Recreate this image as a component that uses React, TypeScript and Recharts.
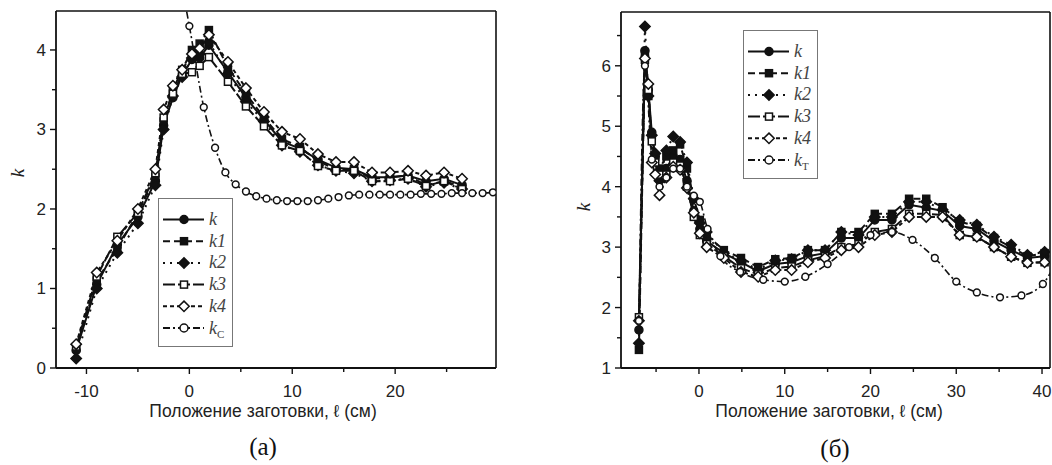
import React from "react";
import { LineChart, Line, XAxis, YAxis, ReferenceLine, Legend, Label } from "recharts";

// ---- (a) ----
const xA = [-11, -9, -7, -5, -3.3, -2.5, -1.6, -0.7, 0.25, 1.0, 1.9, 3.75, 5.5, 7.25, 9, 10.75, 12.5, 14.25, 16, 17.75, 19.5, 21.25, 23, 24.75, 26.5];
const kA = [0.22, 1.05, 1.55, 1.9, 2.35, 3.05, 3.4, 3.68, 3.88, 3.9, 4.06, 3.72, 3.4, 3.12, 2.85, 2.76, 2.62, 2.52, 2.5, 2.4, 2.4, 2.42, 2.35, 2.38, 2.3];
const k1A = [0.25, 1.1, 1.5, 1.95, 2.4, 3.1, 3.5, 3.75, 4.0, 4.08, 4.25, 3.78, 3.45, 3.15, 2.88, 2.78, 2.6, 2.5, 2.5, 2.38, 2.4, 2.42, 2.3, 2.35, 2.28];
const k2A = [0.12, 1.0, 1.45, 1.82, 2.3, 3.0, 3.42, 3.66, 3.9, 3.95, 4.1, 3.7, 3.35, 3.1, 2.8, 2.72, 2.55, 2.48, 2.45, 2.35, 2.36, 2.38, 2.28, 2.33, 2.25];
const k3A = [0.27, 1.15, 1.65, 1.95, 2.45, 3.15, 3.45, 3.7, 3.72, 3.8, 3.91, 3.6, 3.29, 3.04, 2.8, 2.73, 2.54, 2.48, 2.48, 2.35, 2.35, 2.38, 2.29, 2.35, 2.25];
const k4A = [0.3, 1.2, 1.6, 2.0, 2.5, 3.25, 3.55, 3.75, 3.95, 4.02, 4.19, 3.85, 3.52, 3.22, 2.97, 2.88, 2.69, 2.59, 2.59, 2.46, 2.46, 2.48, 2.42, 2.46, 2.38];
const xCA = [-0.8, 0, 1.4, 2.5, 3.5, 4.5, 5.5, 6.5, 7.5, 8.5, 9.5, 10.5, 11.5, 12.5, 13.5, 14.5, 15.5, 16.5, 17.5, 18.5, 19.5, 20.5, 21.5, 22.5, 23.5, 24.5, 25.5, 26.5, 27.5, 28.5, 29.5];
const kcA = [4.85, 4.3, 3.28, 2.77, 2.46, 2.31, 2.22, 2.16, 2.13, 2.11, 2.1, 2.1, 2.1, 2.11, 2.13, 2.15, 2.17, 2.18, 2.18, 2.18, 2.18, 2.18, 2.18, 2.19, 2.19, 2.19, 2.2, 2.2, 2.2, 2.2, 2.21];
const xTicksA = [-10, -5, 0, 5, 10, 15, 20, 25];
const yTicksA = [0, 0.5, 1, 1.5, 2, 2.5, 3, 3.5, 4];

// ---- (б) ----
const xB = [-7, -6.3, -5.9, -5.5, -5.1, -4.6, -3.8, -3.0, -2.2, -1.4, -0.6, 0.1, 0.9, 2.9, 4.9, 6.9, 8.9, 10.8, 12.7, 14.7, 16.6, 18.6, 20.5, 22.5, 24.5, 26.5, 28.4, 30.4, 32.4, 34.4, 36.4, 38.3, 40.3];
const kB = [1.63, 6.25, 5.6, 4.9, 4.5, 4.25, 4.3, 4.5, 4.45, 4.1, 3.6, 3.3, 3.1, 2.9, 2.75, 2.6, 2.72, 2.75, 2.85, 2.9, 3.15, 3.15, 3.45, 3.45, 3.7, 3.65, 3.6, 3.35, 3.3, 3.1, 2.95, 2.82, 2.85];
const k1B = [1.3, 6.2, 5.5, 4.85, 4.5, 4.3, 4.5, 4.6, 4.7, 4.3, 3.8, 3.45, 3.2, 2.95, 2.82, 2.67, 2.8, 2.82, 2.95, 2.95, 3.25, 3.25, 3.55, 3.55, 3.8, 3.8, 3.66, 3.42, 3.35, 3.15, 3.0, 2.85, 2.9];
const k2B = [1.41, 6.65, 5.5, 4.85, 4.55, 4.1, 4.6, 4.83, 4.74, 4.4, 3.8, 3.4, 3.25, 2.9, 2.78, 2.62, 2.78, 2.8, 2.95, 2.95, 3.25, 3.2, 3.5, 3.5, 3.75, 3.75, 3.62, 3.45, 3.37, 3.17, 3.04, 2.87, 2.92];
const k3B = [1.84, 6.1, 5.6, 4.75, 4.4, 4.2, 4.2, 4.4, 4.35, 4.0, 3.5, 3.2, 3.05, 2.85, 2.65, 2.55, 2.65, 2.68, 2.78, 2.85, 3.0, 3.05, 3.25, 3.3, 3.55, 3.55, 3.53, 3.2, 3.17, 3.0, 2.84, 2.74, 2.75];
const k4B = [1.78, 6.12, 5.7, 4.4, 4.2, 3.86, 4.15, 4.33, 4.28, 3.98, 3.57, 3.23, 3.0, 2.82, 2.59, 2.51, 2.62, 2.62, 2.75, 2.82, 2.95, 3.0, 3.2, 3.25, 3.5, 3.5, 3.5, 3.2, 3.17, 3.0, 2.84, 2.74, 2.75];
const xTB = [-7, -6.3, -5.5, -4.6, -3.8, -3.0, -2.2, -1.4, -0.6, 0.1, 1.0, 2.5, 4.8, 7.5, 10, 12.4, 15, 17.5, 20, 22.5, 24.9, 27.5, 30, 32.4, 35.1, 37.6, 40.1, 41.8];
const kTB = [1.78, 6.0, 4.45, 4.0, 4.15, 4.3, 4.3, 4.0, 3.85, 3.75, 3.3, 2.85, 2.59, 2.46, 2.43, 2.51, 2.72, 3.0, 3.2, 3.25, 3.12, 2.82, 2.43, 2.25, 2.17, 2.2, 2.39, 2.8];
const xTicksB = [-5, 0, 5, 10, 15, 20, 25, 30, 35, 40];
const yTicksB = [1, 1.5, 2, 2.5, 3, 3.5, 4, 4.5, 5, 5.5, 6, 6.5];

const INK = "#111";
const TICK_FONT = "'Liberation Sans', Arial, sans-serif";
const SERIF = "'Liberation Serif', 'Times New Roman', serif";

type Shape = "circle" | "square" | "diamond";
interface SeriesDef { key: string; label: string; sub?: string; dash?: string; shape: Shape; filled: boolean; width: number }

const seriesA: SeriesDef[] = [
  { key: "k", label: "k", shape: "circle", filled: true, width: 2 },
  { key: "k1", label: "k1", dash: "7 4", shape: "square", filled: true, width: 2 },
  { key: "k2", label: "k2", dash: "2 5", shape: "diamond", filled: true, width: 2 },
  { key: "k3", label: "k3", dash: "12 3", shape: "square", filled: false, width: 2 },
  { key: "k4", label: "k4", dash: "4 3", shape: "diamond", filled: false, width: 2 },
];
const kcDef: SeriesDef = { key: "kc", label: "k", sub: "С", dash: "7 3 2 3", shape: "circle", filled: false, width: 1.6 };
const ktDef: SeriesDef = { key: "kt", label: "k", sub: "Т", dash: "7 3 2 3", shape: "circle", filled: false, width: 1.6 };

function Marker({ shape, filled, cx, cy, big }: { shape: Shape; filled: boolean; cx: number; cy: number; big?: boolean }) {
  const common = { fill: filled ? INK : "#fff", stroke: INK, strokeWidth: 1.5 };
  if (shape === "circle") return <circle cx={cx} cy={cy} r={filled ? 4 : big ? 4 : 3.4} {...common} />;
  if (shape === "square") return <rect x={cx - 3.5} y={cy - 3.5} width={7} height={7} {...common} />;
  return <polygon points={`${cx},${cy - 5.2} ${cx + 5.2},${cy} ${cx},${cy + 5.2} ${cx - 5.2},${cy}`} {...common} />;
}

const dotFor = (s: SeriesDef) => (p: any) => {
  if (p.cx == null || p.cy == null) return <g key={`${s.key}-${p.index}`} />;
  return <Marker key={`${s.key}-${p.index}`} shape={s.shape} filled={s.filled} cx={p.cx} cy={p.cy} />;
};

function XTick(props: any) {
  const { x, y, payload } = props;
  const v = payload.value;
  const major = v % 10 === 0;
  const y0 = y - 8;
  return (
    <g>
      <line x1={x} x2={x} y1={y0} y2={y0 + (major ? 6 : 4)} stroke={INK} strokeWidth={1.4} />
      {major && (
        <text x={x} y={y0 + 29} textAnchor="middle" fontSize={17} fontFamily={TICK_FONT} fill="#222">{v}</text>
      )}
    </g>
  );
}

function YTick(props: any) {
  const { x, y, payload } = props;
  const v = payload.value;
  const major = Number.isInteger(v);
  const x0 = x + 8;
  return (
    <g>
      <line x1={x0} x2={x0 - (major ? 6 : 4)} y1={y} y2={y} stroke={INK} strokeWidth={1.4} />
      {major && (
        <text x={x0 - 10} y={y + 6} textAnchor="end" fontSize={17} fontFamily={TICK_FONT} fill="#222">{v}</text>
      )}
    </g>
  );
}

function LegendBox({ items }: { items: SeriesDef[] }) {
  return (
    <div style={{ width: 75, height: 149, border: "1px solid #777", boxSizing: "border-box", background: "#fff" }}>
      <svg width={73} height={147} style={{ display: "block" }}>
        {items.map((s, i) => {
          const cy = 20.5 + i * 21.7;
          return (
            <g key={s.key}>
              <line x1={4} x2={45} y1={cy} y2={cy} stroke={INK} strokeWidth={2} strokeDasharray={s.dash} />
              <Marker shape={s.shape} filled={s.filled} cx={25} cy={cy} big />
              <text x={50} y={cy + 5.5} fontFamily={SERIF} fontStyle="italic" fontSize={18} fill="#444">
                {s.label}
                {s.sub && (
                  <tspan fontStyle="normal" fontSize={11} dy={4}>{s.sub}</tspan>
                )}
              </text>
            </g>
          );
        })}
      </svg>
    </div>
  );
}

const rowsA = xA.map((x, i) => ({ x, k: kA[i], k1: k1A[i], k2: k2A[i], k3: k3A[i], k4: k4A[i] }));
const rowsCA = xCA.map((x, i) => ({ x, kc: kcA[i] }));
const rowsB = xB.map((x, i) => ({ x, k: kB[i], k1: k1B[i], k2: k2B[i], k3: k3B[i], k4: k4B[i] }));
const rowsTB = xTB.map((x, i) => ({ x, kt: kTB[i] }));

const XTITLE = "Положение заготовки, ℓ (см)";

function Panel(props: {
  left: number; width: number; margin: { top: number; right: number; bottom: number; left: number };
  xDomain: [number, number]; yDomain: [number, number]; xTicks: number[]; yTicks: number[];
  rows: any[]; extraRows: any[]; extra: SeriesDef; legendPos: { left: number; top: number };
  kPos: { x: number; y: number }; titleX: number;
}) {
  const { margin, xDomain, yDomain } = props;
  return (
    <div style={{ position: "absolute", left: props.left, top: 0 }}>
      <LineChart width={props.width} height={465} margin={margin}>
        <XAxis
          type="number"
          dataKey="x"
          domain={xDomain}
          allowDataOverflow
          ticks={props.xTicks}
          interval={0}
          tick={<XTick />}
          tickLine={false}
          tickSize={6}
          tickMargin={2}
          axisLine={{ stroke: INK, strokeWidth: 1.8 }}
          height={55}
        >
          <Label
            content={() => (
              <text x={props.titleX} y={417} textAnchor="middle" fontSize={17.5} fontFamily={TICK_FONT} fill="#222">
                {XTITLE}
              </text>
            )}
          />
        </XAxis>
        <YAxis
          type="number"
          domain={yDomain}
          allowDataOverflow
          ticks={props.yTicks}
          interval={0}
          tick={<YTick />}
          tickLine={false}
          tickSize={6}
          tickMargin={2}
          axisLine={{ stroke: INK, strokeWidth: 1.8 }}
          width={46}
        >
          <Label
            content={() => (
              <text
                x={props.kPos.x}
                y={props.kPos.y}
                transform={`rotate(-90 ${props.kPos.x} ${props.kPos.y})`}
                textAnchor="middle"
                fontSize={19}
                fontStyle="italic"
                fontFamily={SERIF}
                fill="#222"
              >
                k
              </text>
            )}
          />
        </YAxis>
        <ReferenceLine y={yDomain[1]} stroke={INK} strokeWidth={1.6} />
        <ReferenceLine x={xDomain[1]} stroke={INK} strokeWidth={1.6} />
        {seriesA.map((s) => (
          <Line
            key={s.key}
            data={props.rows}
            dataKey={s.key}
            type="linear"
            stroke={INK}
            strokeWidth={s.width}
            strokeDasharray={s.dash}
            dot={dotFor(s)}
            activeDot={false}
            isAnimationActive={false}
          />
        ))}
        <Line
          data={props.extraRows}
          dataKey={props.extra.key}
          type="monotone"
          stroke={INK}
          strokeWidth={props.extra.width}
          strokeDasharray={props.extra.dash}
          dot={dotFor(props.extra)}
          activeDot={false}
          isAnimationActive={false}
        />
        <Legend
          layout="vertical"
          align="center"
          verticalAlign="middle"
          wrapperStyle={{ left: props.legendPos.left, top: props.legendPos.top, width: 75, height: 149 }}
          content={() => <LegendBox items={[...seriesA, props.extra]} />}
        />
      </LineChart>
    </div>
  );
}

export default function App() {
  return (
    <div style={{ position: "fixed", left: 0, top: 0, width: 1052, height: 465, overflow: "hidden", background: "#fff" }}>
      <Panel
        left={0}
        width={520}
        margin={{ top: 11, right: 24, bottom: 42, left: 10 }}
        xDomain={[-12.96, 29.8]}
        yDomain={[0, 4.49]}
        xTicks={xTicksA}
        yTicks={yTicksA}
        rows={rowsA}
        extraRows={rowsCA}
        extra={kcDef}
        legendPos={{ left: 158, top: 198 }}
        kPos={{ x: 24, y: 173 }}
        titleX={263}
      />
      <Panel
        left={560}
        width={500}
        margin={{ top: 12, right: 10, bottom: 42, left: 15 }}
        xDomain={[-9.09, 40.93]}
        yDomain={[1, 6.89]}
        xTicks={xTicksB}
        yTicks={yTicksB}
        rows={rowsB}
        extraRows={rowsTB}
        extra={ktDef}
        legendPos={{ left: 183, top: 30 }}
        kPos={{ x: 30, y: 207 }}
        titleX={269}
      />
      <div style={{ position: "absolute", left: 233, top: 432, width: 60, textAlign: "center", fontFamily: SERIF, fontSize: 25, lineHeight: "30px", color: "#111" }}>
        (a)
      </div>
      <div style={{ position: "absolute", left: 805, top: 434, width: 60, textAlign: "center", fontFamily: SERIF, fontSize: 25, lineHeight: "30px", color: "#111" }}>
        (б)
      </div>
    </div>
  );
}
